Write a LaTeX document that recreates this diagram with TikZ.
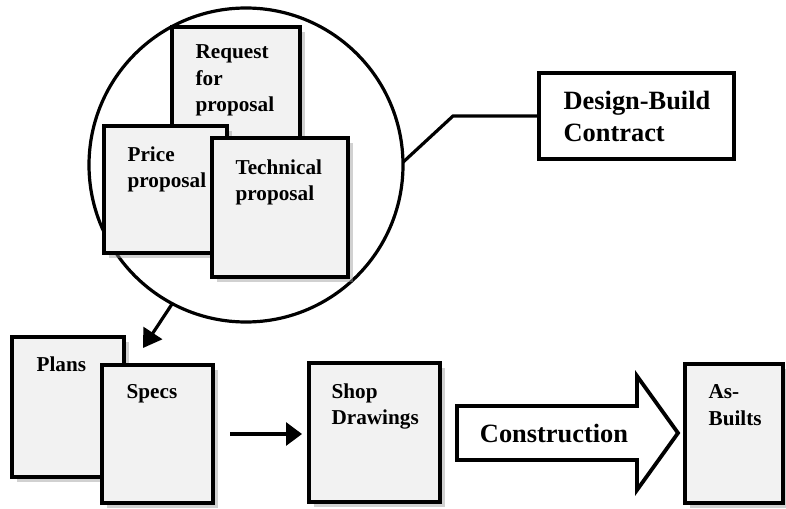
\documentclass[tikz,border=0pt]{standalone}
\usepackage{fontspec}
\setmainfont{Liberation Serif}
\usetikzlibrary{shadows,arrows.meta}
\begin{document}
\begin{tikzpicture}[x=0.5pt,y=-0.5pt,line width=1.6pt,
    doc/.style={draw,line width=1.9pt,fill=black!5,anchor=north west,inner sep=0pt,outer sep=0pt,
      drop shadow={shadow xshift=2.5pt,shadow yshift=-2.5pt,fill=black!40,opacity=0.45}},
    doctext/.style={anchor=north west,inner sep=0pt,align=left,
      font=\fontsize{10.6}{13.3}\selectfont\bfseries},
    bigtext/.style={inner sep=0pt,align=left,font=\fontsize{13.2}{16}\selectfont\bfseries},
    flow/.style={-{Triangle[length=8pt,width=11.5pt]}}]
  \useasboundingbox (0,0) rectangle (786,508);
  % Proposal bundle
  \node[circle,draw,minimum size=157pt,inner sep=0pt,outer sep=0pt] (bundle) at (246,165) {};
  \node[doc,minimum width=64pt,minimum height=62pt] (rfp) at (172,27) {};
  \node[doctext] (rfptext) at ([shift={(22,16)}]rfp.north west) {Request\\for\\proposal};
  \node[doc,minimum width=61.5pt,minimum height=63.5pt] (price) at (104,126) {};
  \node[doctext] (pricetext) at ([shift={(22,19)}]price.north west) {Price\\proposal};
  \node[doc,minimum width=68pt,minimum height=69.5pt] (tech) at (212,138) {};
  \node[doctext] (techtext) at ([shift={(22,20)}]tech.north west) {Technical\\proposal};
  % Contract
  \node[draw,line width=1.9pt,fill=white,anchor=north west,inner sep=0pt,outer sep=0pt,
    minimum width=97.5pt,minimum height=43pt] (dbc) at (539,73) {};
  \node[bigtext,anchor=north west] (dbctext) at ([shift={(23,17)}]dbc.north west) {Design-Build\\Contract};
  \coordinate (bend) at (453,116);
  \draw (bundle.1) -- (bend) -- (dbc.west);
  % Design documents
  \node[doc,minimum width=56pt,minimum height=70pt] (plans) at (12,337) {};
  \node[doctext] (planstext) at ([shift={(23,18)}]plans.north west) {Plans};
  \node[doc,minimum width=55.5pt,minimum height=69pt] (specs) at (102,365) {};
  \node[doctext] (specstext) at ([shift={(23,18)}]specs.north west) {Specs};
  \coordinate (drop) at (143,348);
  \draw[-{Triangle[length=9pt,width=11pt]}] (bundle.242) -- (drop);
  % Shop drawings
  \node[doc,minimum width=65.5pt,minimum height=69.5pt] (shop) at (309,363) {};
  \node[doctext] (shoptext) at ([shift={(21,19)}]shop.north west) {Shop\\Drawings};
  \draw[flow,shorten <=8.5pt,shorten >=3.5pt] (specs.east) -- (specs.east -| shop.west);
  % Construction
  \draw[fill=white,line width=1.9pt] (457,406) -- (637,406) -- (637,376) -- (678,433) -- (637,490)
    -- (637,460) -- (457,460) -- cycle;
  \node[bigtext] (build) at (554,433) {Construction};
  % As-builts
  \node[doc,minimum width=49pt,minimum height=69.5pt] (asb) at (685,364) {};
  \node[doctext] (asbtext) at ([shift={(22,19)}]asb.north west) {As-\\Builts};
\end{tikzpicture}
\end{document}
